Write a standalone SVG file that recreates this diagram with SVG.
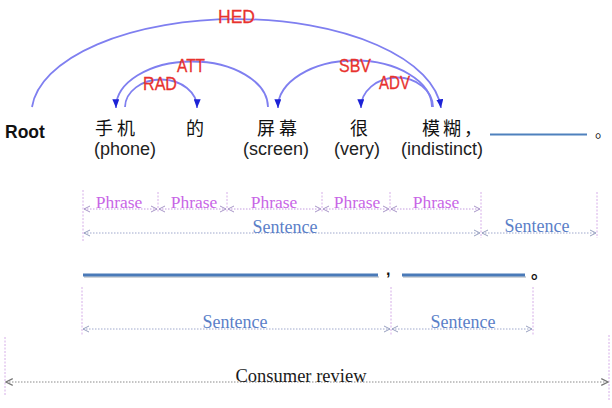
<svg xmlns="http://www.w3.org/2000/svg" width="612" height="408" viewBox="0 0 612 408">
  <style>
    .zh { font-family: "Noto Sans CJK SC", sans-serif; font-size: 18px; fill: #111; letter-spacing: 4px; }
    .dot { font-family: "Noto Sans CJK SC", sans-serif; font-size: 16px; fill: #111; }
    .en { font-family: "Liberation Sans", Arial, sans-serif; font-size: 18px; fill: #222; text-anchor: middle; }
    .root { font-family: "Liberation Sans", Arial, sans-serif; font-size: 17.5px; font-weight: bold; fill: #111; }
    .rel { font-family: "Liberation Sans", Arial, sans-serif; font-size: 19px; fill: #e8322e; stroke: #e8322e; stroke-width: 0.3; }
    .arc { fill: none; stroke: #7f7ff0; stroke-width: 1.8; marker-end: url(#dep); }
    .blank { stroke: #4f81bd; stroke-width: 2; }
    .blank2 { stroke: #4a7ab8; stroke-width: 3; }
    .shadow { stroke: #9aa3ad; stroke-width: 2; opacity: 0.45; }
    .tick { stroke: #d6aee8; stroke-width: 1; stroke-dasharray: 2 1.5; }
    .ph-line { stroke: #c49ce0; stroke-width: 1; stroke-dasharray: 1.5 1.5; marker-start: url(#chevP); marker-end: url(#chevP); }
    .st-line { stroke: #9fa8cc; stroke-width: 1; stroke-dasharray: 1.5 1.5; marker-start: url(#chevS); marker-end: url(#chevS); }
    .cr-line { stroke: #8a8a8a; stroke-width: 1; stroke-dasharray: 1.5 1.5; marker-start: url(#chevC); marker-end: url(#chevC); }
    .ph { font-family: "Liberation Serif", "Times New Roman", serif; font-size: 17.5px; fill: #c865e6; text-anchor: middle; }
    .st { font-family: "Liberation Serif", "Times New Roman", serif; font-size: 18px; fill: #5b7fc8; text-anchor: middle; }
    .cr { font-family: "Liberation Serif", "Times New Roman", serif; font-size: 18.5px; fill: #1a1a1a; text-anchor: middle; }
  </style>
  <defs>
    <marker id="dep" viewBox="0 0 10 8" refX="10" refY="4" markerWidth="9" markerHeight="7" orient="auto" markerUnits="userSpaceOnUse">
      <path d="M0,0 L10,4 L0,8 z" fill="#1c22d6"/>
    </marker>
    <marker id="chevP" viewBox="0 0 8 8" refX="7" refY="4" markerWidth="8" markerHeight="8" orient="auto-start-reverse" markerUnits="userSpaceOnUse">
      <path d="M1,1 L7,4 L1,7" fill="none" stroke="#a896c8" stroke-width="1"/>
    </marker>
    <marker id="chevS" viewBox="0 0 8 8" refX="7" refY="4" markerWidth="8" markerHeight="8" orient="auto-start-reverse" markerUnits="userSpaceOnUse">
      <path d="M1,1 L7,4 L1,7" fill="none" stroke="#98a0c0" stroke-width="1"/>
    </marker>
    <marker id="chevC" viewBox="0 0 8 8" refX="7" refY="4" markerWidth="9" markerHeight="9" orient="auto-start-reverse" markerUnits="userSpaceOnUse">
      <path d="M1,1 L7,4 L1,7" fill="none" stroke="#777" stroke-width="1"/>
    </marker>
  </defs>
  <rect width="612" height="408" fill="#fff"/>

  <!-- dependency arcs -->
  <g id="connectors">
    <path class="arc" d="M32,107 A205,95 0 0 1 441,108"/>
    <path class="arc" d="M268,107 A76,46 0 0 0 116,108"/>
    <path class="arc" d="M125,107 A36,28 0 0 1 197,108"/>
    <path class="arc" d="M432,107 A77,47 0 0 0 278,108"/>
    <path class="arc" d="M433,107 A36,30 0 0 0 361,108"/>
    <text class="rel" x="218" y="23" textLength="37" lengthAdjust="spacingAndGlyphs">HED</text>
    <text class="rel" x="177" y="72" textLength="28" lengthAdjust="spacingAndGlyphs">ATT</text>
    <text class="rel" x="143" y="90" textLength="34" lengthAdjust="spacingAndGlyphs">RAD</text>
    <text class="rel" x="339" y="72" textLength="32" lengthAdjust="spacingAndGlyphs">SBV</text>
    <text class="rel" x="379" y="89" textLength="31" lengthAdjust="spacingAndGlyphs">ADV</text>
  </g>

  <!-- word nodes -->
  <g id="root"><text class="root" x="5" y="138">Root</text></g>
  <g id="w-phone">
    <text class="zh" x="95" y="135">手机</text>
    <text class="en" x="125" y="155">(phone)</text>
  </g>
  <g id="w-de"><text class="zh" x="186" y="135">的</text></g>
  <g id="w-screen">
    <text class="zh" x="257" y="135">屏幕</text>
    <text class="en" x="276" y="155">(screen)</text>
  </g>
  <g id="w-very">
    <text class="zh" x="350" y="135">很</text>
    <text class="en" x="357" y="155">(very)</text>
  </g>
  <g id="w-indistinct">
    <text class="zh" x="422" y="135" style="letter-spacing:3px">模糊，</text>
    <text class="en" x="442" y="155">(indistinct)</text>
  </g>
  <g id="blank-1">
    <line class="blank" x1="490" y1="134.5" x2="587" y2="134.5"/>
    <text class="dot" x="595" y="137">。</text>
  </g>

  <!-- phrase / sentence spans of the first sentence -->
  <g id="spans-row1">
    <line class="tick" x1="83" y1="190" x2="83" y2="242"/>
    <line class="tick" x1="158" y1="192" x2="158" y2="212"/>
    <line class="tick" x1="227" y1="192" x2="227" y2="212"/>
    <line class="tick" x1="322" y1="192" x2="322" y2="212"/>
    <line class="tick" x1="390" y1="192" x2="390" y2="212"/>
    <line class="tick" x1="481" y1="192" x2="481" y2="238"/>
    <line class="tick" x1="597" y1="192" x2="597" y2="238"/>
    <line class="ph-line" x1="84" y1="209" x2="157" y2="209"/>
    <line class="ph-line" x1="159" y1="209" x2="226" y2="209"/>
    <line class="ph-line" x1="228" y1="209" x2="321" y2="209"/>
    <line class="ph-line" x1="323" y1="209" x2="389" y2="209"/>
    <line class="ph-line" x1="391" y1="209" x2="480" y2="209"/>
    <text class="ph" x="119" y="208">Phrase</text>
    <text class="ph" x="194" y="208">Phrase</text>
    <text class="ph" x="274" y="208">Phrase</text>
    <text class="ph" x="357" y="208">Phrase</text>
    <text class="ph" x="436" y="208">Phrase</text>
    <line class="st-line" x1="84" y1="233" x2="480" y2="233"/>
    <line class="st-line" x1="482" y1="233" x2="596" y2="233"/>
    <text class="st" x="285" y="233">Sentence</text>
    <text class="st" x="537" y="232">Sentence</text>
  </g>

  <!-- second sentence template -->
  <g id="blank-2">
    <line class="shadow" x1="84" y1="277" x2="379" y2="277"/>
    <line class="blank2" x1="83" y1="275" x2="378" y2="275"/>
    <text x="386" y="275" font-family="Liberation Sans, Arial, sans-serif" font-size="16" font-weight="bold" fill="#111">,</text>
    <line class="shadow" x1="403" y1="277" x2="526" y2="277"/>
    <line class="blank2" x1="402" y1="275" x2="525" y2="275"/>
    <text x="531" y="278" font-family="Noto Sans CJK SC, sans-serif" font-size="17" font-weight="bold" fill="#111">。</text>
  </g>
  <g id="spans-row2">
    <line class="tick" x1="82" y1="287" x2="82" y2="335"/>
    <line class="tick" x1="391" y1="287" x2="391" y2="335"/>
    <line class="tick" x1="533" y1="287" x2="533" y2="335"/>
    <line class="st-line" x1="83" y1="329" x2="390" y2="329"/>
    <line class="st-line" x1="392" y1="329" x2="532" y2="329"/>
    <text class="st" x="235" y="328">Sentence</text>
    <text class="st" x="463" y="328">Sentence</text>
  </g>

  <!-- whole review span -->
  <g id="review">
    <line class="tick" x1="5" y1="337" x2="5" y2="395"/>
    <line class="tick" x1="609" y1="335" x2="609" y2="400"/>
    <line class="cr-line" x1="6" y1="382" x2="608" y2="382"/>
    <text class="cr" x="301" y="382">Consumer review</text>
  </g>
</svg>
